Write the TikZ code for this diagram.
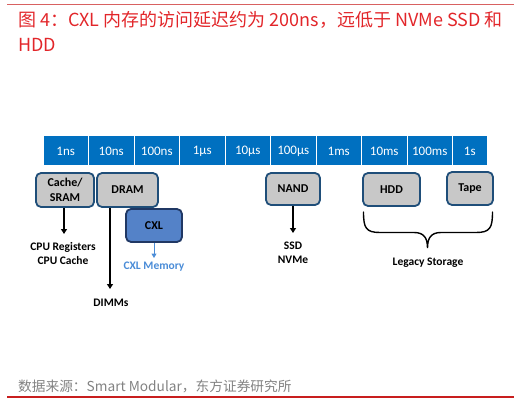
\documentclass[tikz,border=0pt]{standalone}
\usepackage{fontspec}
\setmainfont{Carlito}
\newfontfamily\cjk{Noto Sans CJK SC}
\usetikzlibrary{arrows.meta}
\definecolor{barblue}{RGB}{0,112,192}
\definecolor{boxgray}{RGB}{200,200,200}
\definecolor{boxborder}{RGB}{31,78,121}
\definecolor{cxlfill}{RGB}{84,130,200}
\definecolor{cxlborder}{RGB}{32,56,100}
\definecolor{cxltext}{RGB}{74,140,215}
\definecolor{titlered}{RGB}{226,38,42}
\definecolor{linered}{RGB}{200,30,30}
\definecolor{srcgray}{RGB}{130,130,130}
\tikzset{
  cell/.style={draw=white, line width=1pt, fill=barblue, text=white, minimum height=30pt, inner sep=0pt, font=\fontsize{13}{15}\selectfont},
  membox/.style={draw=boxborder, line width=1.8pt, rounded corners=5pt, fill=boxgray, inner sep=0pt, align=center, font=\bfseries\fontsize{12}{15}\selectfont},
  cxlbox/.style={membox, draw=cxlborder, fill=cxlfill},
  lbl/.style={align=center, inner sep=0pt, font=\bfseries\fontsize{11.5}{14}\selectfont},
  arr/.style={line width=1.2pt, -{Triangle[width=6pt,length=5pt]}},
}
\begin{document}
\begin{tikzpicture}[x=1pt,y=-1pt]
\useasboundingbox (0,0) rectangle (523,404);
% header/footer
\draw[linered!70, line width=1pt] (7,5) coordinate (t1) -- (514,5) coordinate (t2);
\node[anchor=base west, inner sep=0pt, text=titlered, font=\cjk\fontsize{18}{25}\selectfont] (title1) at (18,27) {图 4：CXL 内存的访问延迟约为 200ns，远低于 NVMe SSD 和};
\node[anchor=base west, inner sep=0pt, text=titlered, font=\cjk\fontsize{18}{25}\selectfont] (title2) at (18,52) {HDD};
\node[anchor=base west, inner sep=0pt, text=srcgray, font=\cjk\fontsize{13.7}{15}\selectfont] (src) at (18,391) {数据来源：Smart Modular，东方证券研究所};
\draw[linered, line width=1.2pt] (7,397) coordinate (b1) -- (514,397) coordinate (b2);
% timeline bar
\foreach \lab [count=\i] in {1ns,10ns,100ns,1µs,10µs,100µs,1ms,10ms,100ms}{
  \node[cell, minimum width=45.5pt] (c\i) at ({43+45.5*(\i-1)+22.75},151) {\lab};
}
\node[cell, minimum width=34.5pt] (c10) at (469.75,151) {1s};
% boxes
\node[membox, minimum width=58pt, minimum height=34pt] (cache) at (65,190) {Cache/\\SRAM};
\node[membox, minimum width=61pt, minimum height=34pt] (dram) at (127.5,190) {DRAM};
\node[cxlbox, minimum width=56pt, minimum height=33pt] (cxl) at (154,225.5) {CXL};
\node[membox, minimum width=54pt, minimum height=32pt] (nand) at (293,189) {NAND};
\node[membox, minimum width=57pt, minimum height=33pt] (hdd) at (391.5,189.5) {HDD};
\node[membox, minimum width=46pt, minimum height=33pt] (tape) at (470,188.5) {Tape};
% labels
\node[lbl] (cpu) at (63,253.5) {CPU Registers\\CPU Cache};
\node[lbl] (dimms) at (111,303) {DIMMs};
\node[lbl, text=cxltext] (cxlmem) at (154,267) {CXL Memory};
\node[lbl] (ssd) at (293,252.5) {SSD\\NVMe};
\node[lbl] (legacy) at (428,263) {Legacy Storage};
% arrows
\coordinate (cpuend) at (64,234);
\coordinate (dimmend) at (110,289);
\coordinate (cxlend) at (154,258);
\coordinate (ssdend) at (293,233);
\draw[arr] (cache.south -| cpuend) -- (cpuend);
\draw[arr] (dram.south -| dimmend) -- (dimmend);
\draw[arr, draw=cxltext, fill=cxltext, line width=1pt, -{Triangle[width=5pt,length=4.5pt]}] (cxl.south) -- (cxlend);
\draw[arr] (nand.south) -- (ssdend);
% brace
\coordinate (bl) at (363.5,212);
\coordinate (br) at (492.5,212);
\coordinate (btip) at (427.5,248);
\draw[line width=1.4pt, line cap=round]
  (bl) .. controls (363.5,228) and (366,232.5) .. (380,232.5)
  -- (414,232.5) .. controls (424,232.5) and (427.5,238) .. (btip)
  .. controls (427.5,238) and (431,232.5) .. (441,232.5)
  -- (476,232.5) .. controls (490,232.5) and (492.5,228) .. (br);
\end{tikzpicture}
\end{document}
